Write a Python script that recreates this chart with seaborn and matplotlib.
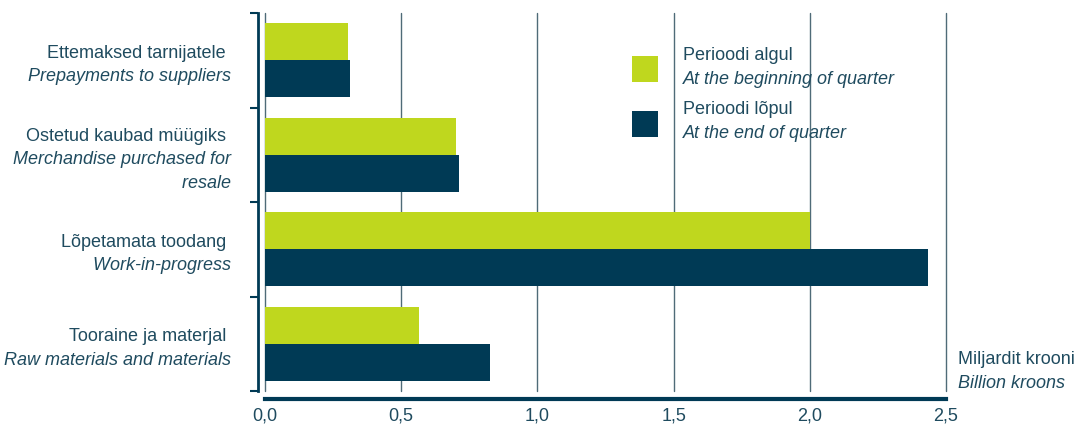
import numpy as np
import pandas as pd
import matplotlib
matplotlib.use("Agg")
import matplotlib.pyplot as plt
import seaborn as sns
from matplotlib.patches import Rectangle

# data
categories_et = ["Ettemaksed tarnijatele", "Ostetud kaubad müügiks", "Lõpetamata toodang", "Tooraine ja materjal"]
categories_en = [["Prepayments to suppliers"], ["Merchandise purchased for", "resale"], ["Work-in-progress"], ["Raw materials and materials"]]
begin_values = [0.305, 0.70, 2.00, 0.565]
end_values = [0.312, 0.712, 2.434, 0.826]
series_et = ["Perioodi algul", "Perioodi lõpul"]
series_en = ["At the beginning of quarter", "At the end of quarter"]
colors = ["#BFD71E", "#003A55"]
x_ticks = [0.0, 0.5, 1.0, 1.5, 2.0, 2.5]

text_color = "#1F4B5F"
fs = 13

df = pd.DataFrame({
    "category": categories_et * 2,
    "value": begin_values + end_values,
    "period": [series_et[0]] * 4 + [series_et[1]] * 4,
})

sns.set_style("white")
plt.rcParams["font.family"] = ["Liberation Sans", "DejaVu Sans"]

fig = plt.figure(figsize=(10.75, 4.3), dpi=100)
ax = fig.add_axes([265 / 1075, 1 - 391 / 430, (946 - 265) / 1075, (391 - 13) / 430])

sns.barplot(data=df, x="value", y="category", hue="period", hue_order=series_et,
            palette=colors, orient="h", width=0.78, ax=ax, legend=False,
            saturation=1, linewidth=0, zorder=3)

ax.set_xlim(0, 2.5)
ax.set_ylim(3.5, -0.5)
ax.set_xlabel("")
ax.set_ylabel("")

# vertical grid
for xv in x_ticks:
    ax.axvline(xv, color="#4F6B78", lw=1.0, zorder=1, clip_on=False)

# spines
for s in ["top", "right"]:
    ax.spines[s].set_visible(False)
ax.spines["left"].set_position(("outward", 5))
ax.spines["left"].set_color("#003A55")
ax.spines["left"].set_linewidth(2)
ax.spines["bottom"].set_position(("outward", 6))
ax.spines["bottom"].set_color("#003A55")
ax.spines["bottom"].set_linewidth(3)

ax.set_xticks(x_ticks)
ax.set_xticklabels([f"{v:.1f}".replace(".", ",") for v in x_ticks], fontsize=fs, color=text_color)
ax.tick_params(axis="x", direction="out", length=4, width=1.2, color="#003A55", pad=2)

ax.set_yticks([])
ax.set_yticks(np.arange(-0.5, 4.0, 1.0), minor=True)
ax.tick_params(axis="y", which="minor", direction="out", length=6, width=1.5, color="#003A55", left=True)

# category labels: Estonian upright, English italic
line_px = 23.5
for i, (et, en) in enumerate(zip(categories_et, categories_en)):
    lines = [(et, "normal")] + [(t, "italic") for t in en]
    n = len(lines)
    for k, (t, style) in enumerate(lines):
        dy = ((n - 1) / 2 - k) * line_px
        ax.annotate(t + ("  " if style == "normal" else " "), xy=(0, i), xycoords=("axes fraction", "data"),
                    xytext=(-29 * 0.72, dy * 0.72 - 3.5), textcoords="offset points",
                    ha="right", va="center", fontsize=fs, fontstyle=style, color=text_color)

# legend
for j in range(2):
    y0 = 56 + j * 55
    fig.patches.append(Rectangle((632 / 1075, 1 - (y0 + 26) / 430), 26 / 1075, 26 / 430,
                                 transform=fig.transFigure, facecolor=colors[j], edgecolor="none"))
    fig.text(683 / 1075, 1 - (y0 - 1) / 430, series_et[j], ha="left", va="center", fontsize=fs, color=text_color)
    fig.text(683 / 1075, 1 - (y0 + 23) / 430, series_en[j], ha="left", va="center", fontsize=fs,
             fontstyle="italic", color=text_color)

# unit label
fig.text(958 / 1075, 1 - 360 / 430, "Miljardit krooni", ha="left", va="center", fontsize=fs, color=text_color)
fig.text(958 / 1075, 1 - 383 / 430, "Billion kroons", ha="left", va="center", fontsize=fs,
         fontstyle="italic", color=text_color)

fig.savefig("out.png", dpi=100)
